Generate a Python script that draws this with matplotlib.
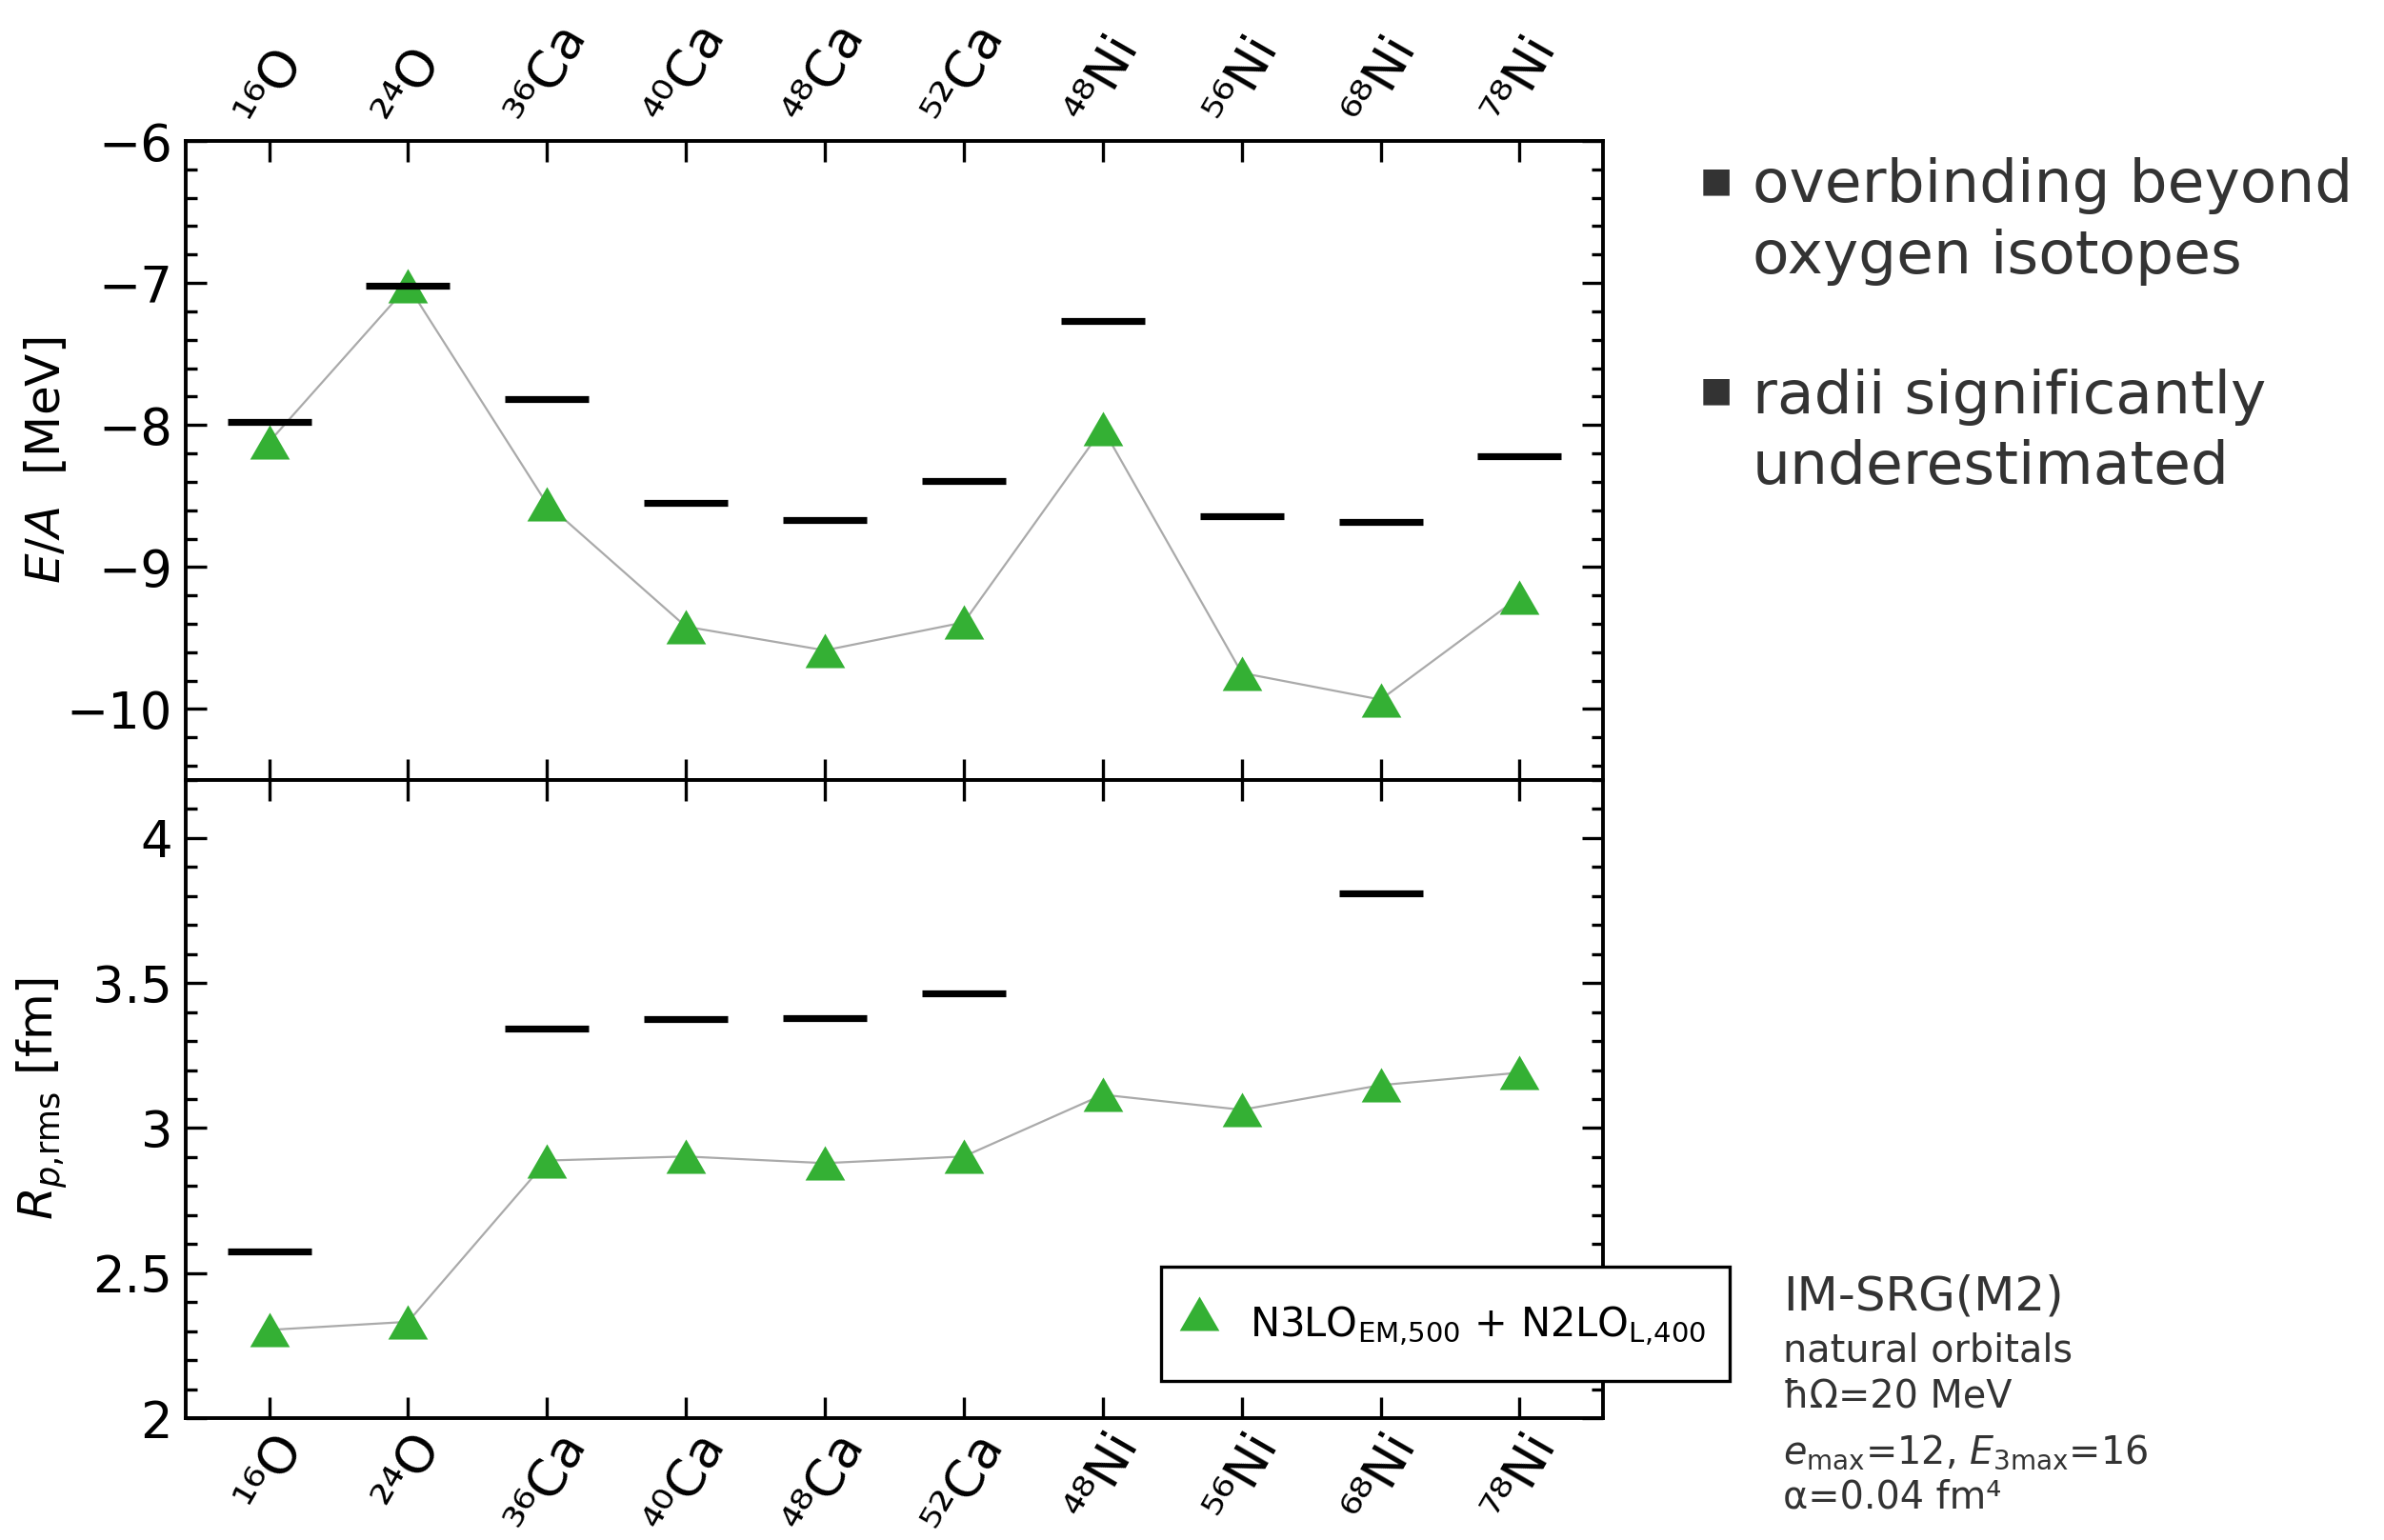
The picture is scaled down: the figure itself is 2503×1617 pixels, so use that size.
import matplotlib
matplotlib.use('Agg')
import matplotlib.pyplot as plt
from matplotlib.ticker import MultipleLocator
import numpy as np

# ---------------- data ----------------
mass_numbers = ['¹⁶', '²⁴', '³⁶', '⁴⁰', '⁴⁸', '⁵²', '⁴⁸', '⁵⁶', '⁶⁸', '⁷⁸']
elements = ['O', 'O', 'Ca', 'Ca', 'Ca', 'Ca', 'Ni', 'Ni', 'Ni', 'Ni']

ea_exp = [-7.976, -7.02, -7.815, -8.551, -8.667, -8.396, -7.268, -8.641, -8.682, -8.223]
ea_calc = [-8.12, -7.02, -8.556, -9.42, -9.587, -9.39, -8.023, -9.746, -9.934, -9.21]

rp_exp = [2.576, np.nan, 3.344, 3.376, 3.379, 3.465, np.nan, np.nan, 3.808, np.nan]
rp_calc = [2.304, 2.332, 2.888, 2.902, 2.879, 2.902, 3.115, 3.063, 3.148, 3.191]

legend_label = r'N3LO$_{\mathrm{EM{,}500}}$ + N2LO$_{\mathrm{L{,}400}}$'
bullet_lines = [['overbinding beyond', 'oxygen isotopes'],
                ['radii significantly', 'underestimated']]
annot_title = 'IM-SRG(M2)'
annot_lines = ['natural orbitals', 'ħΩ=20 MeV',
               r'$e_{\mathrm{max}}$=12, $E_{3\mathrm{max}}$=16', 'α=0.04 fm⁴']

# ---------------- style ----------------
plt.rcParams['font.family'] = ['DejaVu Sans']
plt.rcParams['mathtext.fontset'] = 'dejavusans'

W, H = 2503, 1617
DPI = 200
fig = plt.figure(figsize=(W / DPI, H / DPI), dpi=DPI)

def fx(px):
    return px / W

def fy(py):
    return 1 - py / H

left, right = 195, 1683
top, mid, bottom = 148, 819, 1489
ax1 = fig.add_axes([fx(left), fy(mid), fx(right) - fx(left), fy(top) - fy(mid)])
ax2 = fig.add_axes([fx(left), fy(bottom), fx(right) - fx(left), fy(mid) - fy(bottom)])

green = '#34b034'
gray = '#aaaaaa'
tri = [(-1, -0.866), (1, -0.866), (0, 0.866)]
x = np.arange(len(mass_numbers))
labels = [m + e for m, e in zip(mass_numbers, elements)]

for ax, exp, calc in ((ax1, ea_exp, ea_calc), (ax2, rp_exp, rp_calc)):
    ax.plot(x, calc, '-', color=gray, lw=0.8, zorder=2)
    h, = ax.plot(x, calc, ls='none', marker=tri, ms=15, color=green,
                 mec=green, mew=0, zorder=3, label=legend_label)
    ax.plot(x, exp, ls='none', marker='_', ms=32, mew=2.6, color='black', zorder=4)
    ax.set_xlim(-0.6, 9.6)
    ax.set_xticks(x)
    ax.set_xticklabels(labels, rotation=60, fontsize=19.5)
    ax.tick_params(axis='both', which='both', direction='in', top=True, bottom=True,
                   left=True, right=True, width=1.2)
    ax.tick_params(axis='both', which='major', length=8)
    ax.tick_params(axis='y', which='minor', length=4.3)
    ax.tick_params(axis='y', labelsize=19, pad=5)
    for s in ax.spines.values():
        s.set_linewidth(1.4)

ax1.tick_params(axis='x', labeltop=True, labelbottom=False, pad=3)
ax2.tick_params(axis='x', labeltop=False, labelbottom=True, pad=2)

ax1.set_ylim(-10.5, -6)
ax1.yaxis.set_major_locator(MultipleLocator(1))
ax1.yaxis.set_minor_locator(MultipleLocator(0.2))
ax2.set_ylim(2, 4.2)
ax2.yaxis.set_major_locator(MultipleLocator(0.5))
ax2.yaxis.set_minor_locator(MultipleLocator(0.1))
ax2.set_yticks([2, 2.5, 3, 3.5, 4])
ax2.set_yticklabels(['2', '2.5', '3', '3.5', '4'])

ax1.set_ylabel(r'$E/A$  [MeV]', fontsize=18)
ax2.set_ylabel(r'$R_{p{,}\mathrm{rms}}$ [fm]', fontsize=18)
ax1.yaxis.set_label_coords((73 - left) / (right - left), 0.5)
ax2.yaxis.set_label_coords((73 - left) / (right - left), 0.5)

leg = ax2.legend(handles=[h], loc='upper left',
                 bbox_to_anchor=(fx(1219), fy(1330)), bbox_transform=fig.transFigure,
                 borderaxespad=0, frameon=True, fancybox=False, framealpha=1,
                 edgecolor='black', fontsize=15, borderpad=0.6, handlelength=0.72,
                 handleheight=2.2, handletextpad=0.9)
leg.get_frame().set_linewidth(1.2)

# right-side bullet text
txtc = '#333333'
block_y = [(190, 212, 287), (410, 434, 508)]
for (by, y1, y2), lines in zip(block_y, bullet_lines):
    fig.text(fx(1802), fy(by), '■', fontsize=13, color=txtc, ha='center', va='center')
    fig.text(fx(1840), fy(y1), lines[0], fontsize=22.7, color=txtc, va='baseline')
    fig.text(fx(1840), fy(y2), lines[1], fontsize=22.7, color=txtc, va='baseline')

# bottom-right annotation
fig.text(fx(1872), fy(1376), annot_title, fontsize=18, color=txtc, va='baseline')
for yy, s in zip([1429, 1478, 1536, 1583], annot_lines):
    fig.text(fx(1872), fy(yy), s, fontsize=14.3, color=txtc, va='baseline')

fig.savefig('out.png', dpi=DPI)
